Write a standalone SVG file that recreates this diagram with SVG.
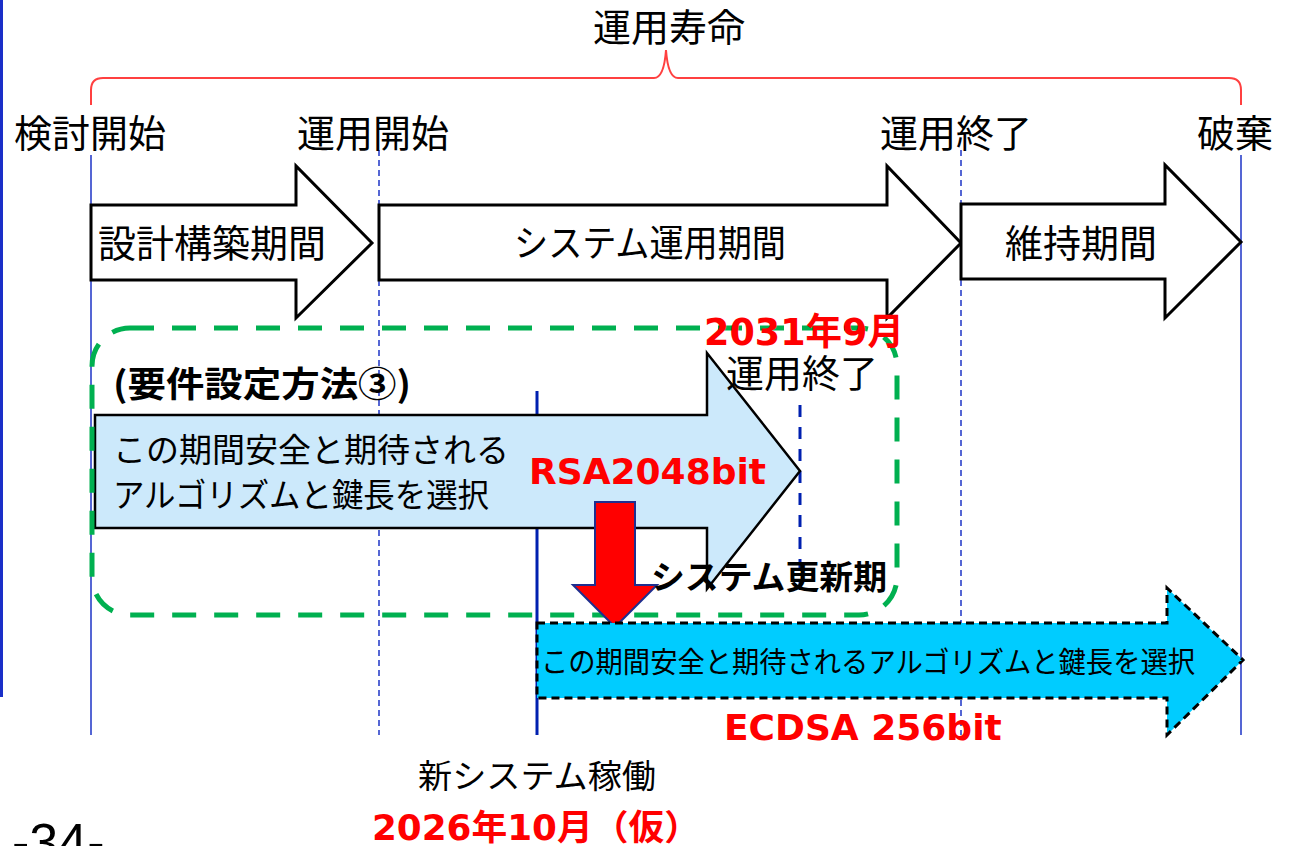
<svg xmlns="http://www.w3.org/2000/svg" width="1296" height="846" viewBox="0 0 1296 846">
<style>
.jp{font-family:"Noto Sans CJK JP","Noto Sans",sans-serif;fill:#000}
.b{font-weight:bold}
.num{font-family:"DejaVu Sans","Noto Sans CJK JP",sans-serif;font-weight:bold;fill:#ff0000}
.guide{stroke:#5566d4;stroke-width:2;fill:none}
.dash{stroke-dasharray:6 4}
.wa{fill:#fff;stroke:#000;stroke-width:3;stroke-linejoin:miter}
</style>
<rect width="1296" height="846" fill="#fff"/>
<line x1="1.5" y1="0" x2="1.5" y2="697" stroke="#1a2fc8" stroke-width="3"/>
<g id="guides">
<line class="guide" x1="91" y1="155" x2="91" y2="735"/>
<line class="guide dash" x1="379" y1="150" x2="379" y2="735"/>
<line class="guide dash" x1="961" y1="150" x2="961" y2="735"/>
<line class="guide" x1="1241" y1="155" x2="1241" y2="735"/>
<line x1="537" y1="391" x2="537" y2="735" stroke="#0020b0" stroke-width="3"/>
<line x1="800" y1="405" x2="800" y2="590" stroke="#0020b0" stroke-width="3" stroke-dasharray="12 10"/>
</g>
<g id="bracket">
<path d="M91,105 L91,90 Q91,78 103,78 L654,78 Q664,78 666,50 Q668,78 678,78 L1229,78 Q1241,78 1241,90 L1241,105" fill="none" stroke="#ff4040" stroke-width="2"/>
<text class="jp" x="593" y="41" font-size="38">運用寿命</text>
</g>
<g id="milestones">
<text class="jp" x="14" y="147" font-size="38">検討開始</text>
<text class="jp" x="297" y="147" font-size="38">運用開始</text>
<text class="jp" x="880" y="147" font-size="38">運用終了</text>
<text class="jp" x="1197" y="147" font-size="38">破棄</text>
</g>
<g id="phase1">
<polygon class="wa" points="91,205 296,205 296,166 372,243 296,318 296,280 91,280"/>
<text class="jp" x="98" y="257" font-size="38">設計構築期間</text>
</g>
<g id="phase2">
<polygon class="wa" points="379,205 887,205 887,166 961,243 887,318 887,280 379,280"/>
<text class="jp" x="650" y="257" font-size="37" text-anchor="middle" textLength="272" lengthAdjust="spacingAndGlyphs">システム運用期間</text>
</g>
<g id="phase3">
<polygon class="wa" points="961,204 1165,204 1165,165 1241,242 1165,318 1165,279 961,279"/>
<text class="jp" x="1005" y="257" font-size="38">維持期間</text>
</g>
<g id="current">
<polygon points="95,415 707,415 707,353 800,471 707,589 707,528 95,528" fill="#cce9fb" stroke="#000" stroke-width="2.5"/>
<text class="jp" x="113" y="462" font-size="33">この期間安全と期待される</text>
<text class="jp" x="113" y="507" font-size="33" textLength="376" lengthAdjust="spacingAndGlyphs">アルゴリズムと鍵長を選択</text>
<text class="num" x="529" y="484" font-size="36">RSA2048bit</text>
</g>
<g id="method">
<rect x="92" y="328" width="805" height="287" rx="38" ry="38" fill="none" stroke="#00b050" stroke-width="5" stroke-dasharray="24 18"/>
<text class="jp b" x="113" y="397" font-size="35" textLength="298" lengthAdjust="spacingAndGlyphs">(要件設定方法③)</text>
</g>
<g id="endlabel">
<text class="num" x="704" y="345" font-size="37" textLength="200" lengthAdjust="spacingAndGlyphs">2031年9月</text>
<text class="jp" x="726" y="387" font-size="38">運用終了</text>
</g>
<g id="update">
<polygon points="595,502 635,502 635,585 657,585 615,627 573,585 595,585" fill="#ff0000" stroke="#1f2f8f" stroke-width="2"/>
<text class="jp b" x="651" y="589" font-size="33" textLength="236" lengthAdjust="spacingAndGlyphs">システム更新期</text>
</g>
<g id="next">
<polygon points="537,623 1167,623 1167,588 1243,660 1167,735 1167,698 537,698" fill="#00ccff" stroke="#000" stroke-width="3" stroke-dasharray="8 5"/>
<text class="jp" x="541" y="673" font-size="29" textLength="654" lengthAdjust="spacingAndGlyphs">この期間安全と期待されるアルゴリズムと鍵長を選択</text>
<text class="num" x="724" y="740" font-size="36">ECDSA 256bit</text>
</g>
<g id="newsys">
<text class="jp" x="418" y="788" font-size="33" textLength="238" lengthAdjust="spacingAndGlyphs">新システム稼働</text>
<text class="num" x="372" y="840" font-size="35" textLength="328" lengthAdjust="spacingAndGlyphs">2026年10月（仮）</text>
</g>
<text x="12" y="860" font-family="Liberation Sans, sans-serif" font-size="52" fill="#000">-34-</text>
</svg>
